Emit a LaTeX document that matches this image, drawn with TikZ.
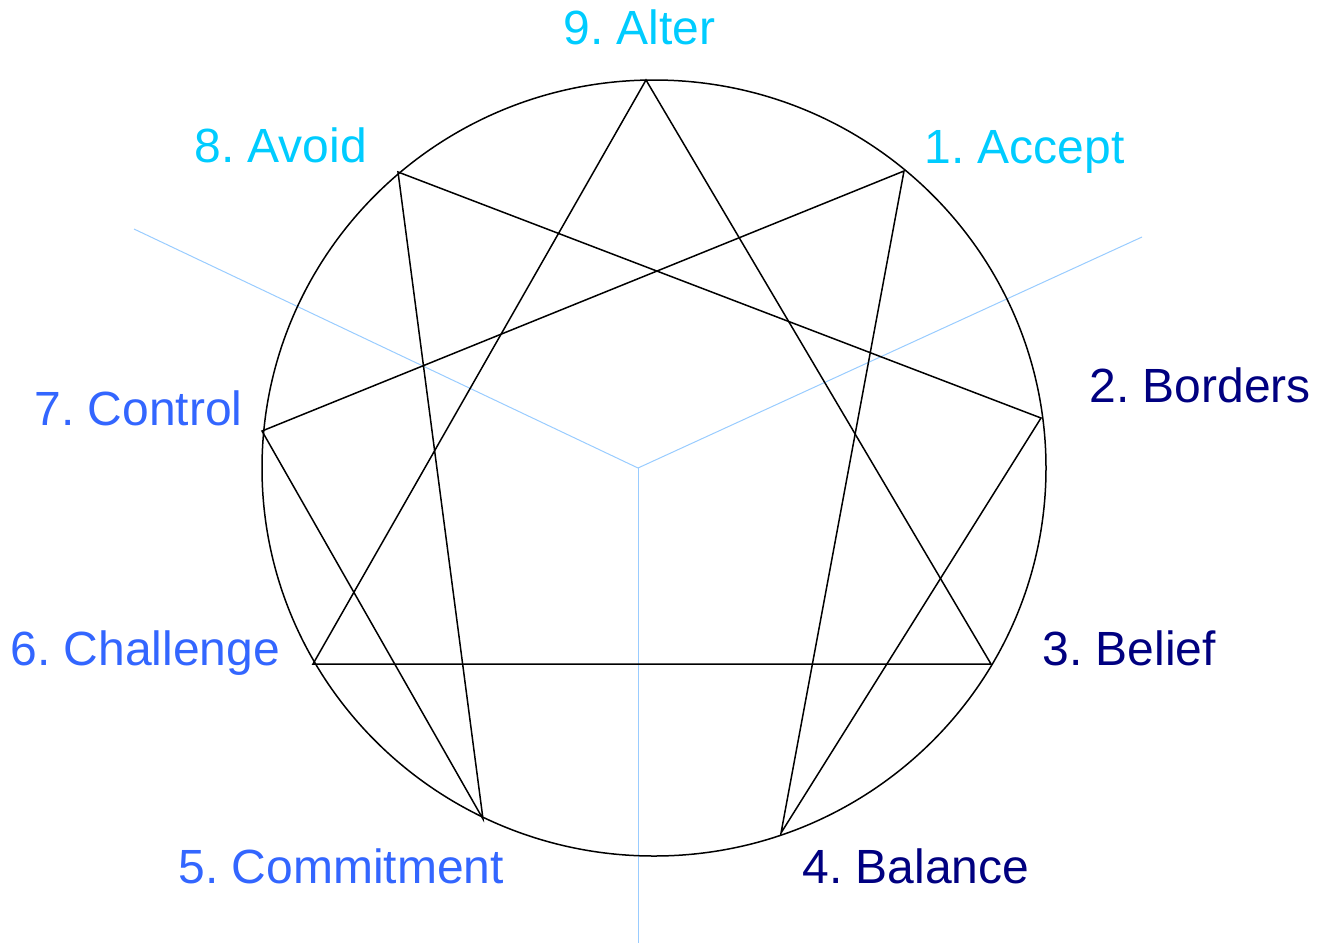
\documentclass[tikz,border=0pt]{standalone}
\usepackage{fontspec}
\setmainfont{Liberation Sans}
\usepackage{xcolor}
\usetikzlibrary{calc, positioning}
\definecolor{labelCyan}{RGB}{0,204,255}
\definecolor{labelBlue}{RGB}{51,102,255}
\definecolor{labelNavy}{RGB}{0,0,128}
\definecolor{axisBlue}{RGB}{153,204,255}
\frenchspacing

\begin{document}
\begin{tikzpicture}[
    x=0.5pt, y=-0.5pt,
    lbl/.style={anchor=base west, inner sep=0pt, font=\fontsize{24}{28}\selectfont},
    edge/.style={black, line width=0.75pt},
    axis/.style={axisBlue, line width=0.5pt},
]
\useasboundingbox (0,0) rectangle (1327,944);

% axes of the three centres
\coordinate (O) at (638,468);
\coordinate (aL) at (134,229);
\coordinate (aR) at (1142,237);
\coordinate (aD) at (638,943);
\draw[axis] (O) -- (aL);
\draw[axis] (O) -- (aR);
\draw[axis] (O) -- (aD);

% circle
\draw[edge] (654,468) ellipse [x radius=392, y radius=388];

% points on the circle
\coordinate (p9) at (646,80);
\coordinate (p1) at (904,171);
\coordinate (p2) at (1041,418);
\coordinate (p3) at (991,664);
\coordinate (p4) at (781,833);
\coordinate (p5) at (483,819);
\coordinate (p6) at (313,664);
\coordinate (p7) at (262,431);
\coordinate (p8) at (398,172);

% triangle
\draw[edge] (p9) -- (p3) -- (p6) -- cycle;
% hexad
\draw[edge] (p1) -- (p4) -- (p2) -- (p8) -- (p5) -- (p7) -- cycle;

% labels
\node[lbl, text=labelCyan] (l9) at (563,44) {9. Alter};
\node[lbl, text=labelCyan] (l1) at (924,163) {1. Accept};
\node[lbl, text=labelNavy] (l2) at (1089,402) {2. Borders};
\node[lbl, text=labelNavy] (l3) at (1042,665) {3. Belief};
\node[lbl, text=labelNavy] (l4) at (802,883) {4. Balance};
\node[lbl, text=labelBlue] (l5) at (178,883) {5. Commitment};
\node[lbl, text=labelBlue] (l6) at (10,665) {6. Challenge};
\node[lbl, text=labelBlue] (l7) at (34,425) {7. Control};
\node[lbl, text=labelCyan] (l8) at (194,162) {8. Avoid};
\end{tikzpicture}
\end{document}
